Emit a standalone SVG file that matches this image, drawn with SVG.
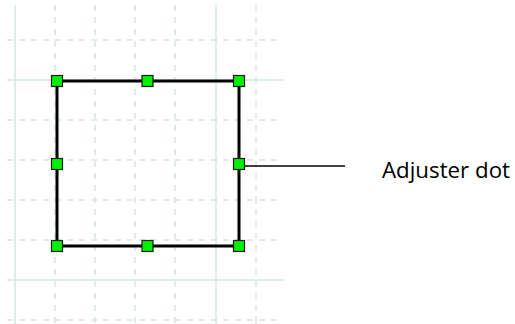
<svg xmlns="http://www.w3.org/2000/svg" width="515" height="324" viewBox="0 0 515 324">
<style>
.g{stroke:#d6e4e6;stroke-width:1.5;fill:none}
.d{stroke-dasharray:6,6}
.h{fill:#00f000;stroke:#1a1a1a;stroke-width:1.2}
</style>
<rect width="515" height="324" fill="#fff"/>
<g id="grid">
<line class="g d" x1="7" y1="40" x2="283" y2="40"/>
<line class="g" x1="7" y1="80" x2="283" y2="80"/>
<line class="g d" x1="7" y1="120" x2="283" y2="120"/>
<line class="g d" x1="7" y1="160" x2="283" y2="160"/>
<line class="g d" x1="7" y1="200" x2="283" y2="200"/>
<line class="g d" x1="7" y1="240" x2="283" y2="240"/>
<line class="g" x1="7" y1="280" x2="283" y2="280"/>
<line class="g d" x1="7" y1="320" x2="283" y2="320"/>
<line class="g" x1="15" y1="5" x2="15" y2="324"/>
<line class="g d" x1="55" y1="5" x2="55" y2="324"/>
<line class="g d" x1="95" y1="5" x2="95" y2="324"/>
<line class="g d" x1="135" y1="5" x2="135" y2="324"/>
<line class="g d" x1="175" y1="5" x2="175" y2="324"/>
<line class="g" x1="216" y1="5" x2="216" y2="324"/>
<line class="g d" x1="256" y1="5" x2="256" y2="324"/>
</g>
<g id="connectors">
<line x1="244" y1="166" x2="345" y2="166" stroke="#000" stroke-width="1.3"/>
</g>
<g id="shape">
<rect x="57" y="81" width="182" height="165" fill="none" stroke="#000" stroke-width="3"/>
</g>
<g id="handles">
<rect class="h" x="51.5" y="75.5" width="11" height="11"/>
<rect class="h" x="142" y="75.5" width="11" height="11"/>
<rect class="h" x="233.5" y="75.5" width="11" height="11"/>
<rect class="h" x="51.5" y="158.5" width="11" height="11"/>
<rect class="h" x="233.5" y="158.5" width="11" height="11"/>
<rect class="h" x="51.5" y="240.5" width="11" height="11"/>
<rect class="h" x="142" y="240.5" width="11" height="11"/>
<rect class="h" x="233.5" y="240.5" width="11" height="11"/>
</g>
<g id="label">
<text x="382" y="178" font-family="'Open Sans','Liberation Sans',sans-serif" font-size="21" textLength="128" lengthAdjust="spacingAndGlyphs" fill="#000">Adjuster dot</text>
</g>
</svg>
